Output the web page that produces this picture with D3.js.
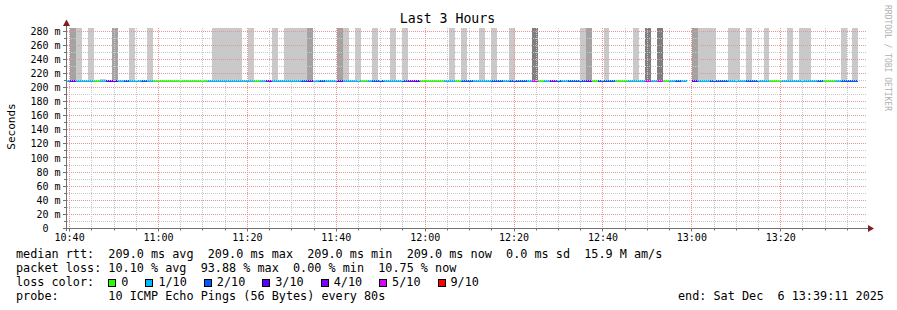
<!DOCTYPE html>
<html>
<head>
<meta charset="utf-8">
<script src="https://cdn.jsdelivr.net/npm/d3@7"></script>
<style>
  body { margin: 0; background: #fff; }
  text { font-family: "DejaVu Sans Mono", monospace; white-space: pre; fill: #000; }
</style>
</head>
<body>
<svg id="chart" width="897" height="310"></svg>
<script>
// ---- data ----
const viewStart = new Date(2025, 11, 6, 10, 39, 11);
const viewEnd = new Date(2025, 11, 6, 13, 39, 11);
const firstStep = new Date(2025, 11, 6, 10, 38, 48); // first 80 s step, partly left of the axis
const stepSeconds = 80;
const medianMs = 209;

// lost pings out of 10 per step (null = no data)
const lossCount = [
  1, 3, 1, 1, 1, 0, 1, 3, 3, 1,
  2, 1, 1, 2, 1, 0, 0, 0, 0, 0,
  0, 0, 0, 0, 1, 1, 1, 1, 1, 1,
  1, 1, 0, 1, 4, 1, 1, 1, 1, 1,
  2, 3, 1, 2, 1, 1, 3, 1, 1, 1,
  0, 1, 2, 2, 1, 1, 1, 2, 4, 3,
  0, 0, 0, 0, 1, 1, 0, 2, 2, 1,
  1, 1, 2, 2, 1, 2, 2, 2, 1, 5,
  0, 1, 4, 2, 1, 2, 2, 2, 3, 0,
  2, 2, 2, 0, 0, 1, 1, 1, 5, 1,
  5, 0, 1, 2, 1, null, 3, 1, 1, 2,
  2, 2, 1, 1, 1, 2, 2, 1, 1, 0,
  0, 1, 1, 1, 1, 1, 1, 2, 0, 0,
  1, 2, 2, 2
];

// smoke density per step: 0 none, 1 light, 2 medium, 3 dark
const smokeShade = [
  0, 2, 1, 0, 1, 0, 1, 0, 2, 0,
  0, 1, 0, 0, 1, 0, 0, 0, 0, 0,
  0, 0, 0, 0, 0, 1, 1, 1, 1, 1,
  0, 1, 0, 0, 0, 1, 0, 1, 1, 1,
  1, 2, 0, 0, 0, 0, 2, 1, 0, 1,
  0, 0, 1, 0, 0, 1, 0, 1, 0, 0,
  0, 0, 0, 0, 0, 1, 0, 1, 0, 0,
  1, 0, 1, 0, 0, 1, 0, 0, 0, 3,
  0, 0, 0, 0, 0, 0, 0, 1, 2, 0,
  0, 1, 0, 0, 0, 0, 1, 0, 3, 0,
  3, 0, 0, 0, 0, 0, 2, 1, 1, 1,
  0, 0, 1, 1, 0, 1, 0, 0, 1, 0,
  0, 0, 1, 0, 1, 1, 0, 0, 0, 0,
  0, 1, 0, 1
];
const smokeTopMs = 300;           // smoke runs off the top of the graph
const smokeTopOverride = { 6: 211.5 }; // one short smoke column

const lossLevels = [0, 1, 2, 3, 4, 5, 9];
const lossLabels = ["0", "1/10", "2/10", "3/10", "4/10", "5/10", "9/10"];
const lossColors = ["#26ff00", "#00b8ff", "#0059ff", "#5e00ff", "#7e00ff", "#dd00ff", "#ff0000"];
const smokeColors = [null, "#c9c9c9", "#a3a3a3", "#7f7f7f"];

const yTicks = d3.range(0, 281, 20);
const yMinor = d3.range(10, 281, 20);

const rttStats = ["209.0 ms avg", "209.0 ms max", "209.0 ms min", "209.0 ms now", "0.0 ms sd", "15.9 M am/s"];
const lossStats = ["10.10 % avg", "93.88 % max", "0.00 % min", "10.75 % now"];
const probeText = "10 ICMP Echo Pings (56 Bytes) every 80s";
const endText = "end: Sat Dec  6 13:39:11 2025";

// ---- drawing ----
const svg = d3.select("#chart");
const plotLeft = 66, plotRight = 866, plotTop = 28, plotBottom = 228.5;

const x = d3.scaleTime().domain([viewStart, viewEnd]).range([plotLeft, plotRight]);
const y = d3.scaleLinear().domain([0, 280]).range([plotBottom, 31]);

svg.append("defs").append("clipPath").attr("id", "plot")
  .append("rect").attr("x", plotLeft).attr("y", plotTop)
  .attr("width", plotRight - plotLeft).attr("height", plotBottom - plotTop);

const steps = lossCount.map((loss, i) => {
  const t0 = d3.timeSecond.offset(firstStep, i * stepSeconds);
  return {
    t0, t1: d3.timeSecond.offset(t0, stepSeconds),
    loss, shade: smokeShade[i],
    smokeTop: smokeTopOverride[i] !== undefined ? smokeTopOverride[i] : smokeTopMs
  };
});

const plot = svg.append("g").attr("clip-path", "url(#plot)");

// smoke
plot.selectAll("rect.smoke")
  .data(steps.filter(d => d.shade > 0 && d.loss !== null))
  .join("rect")
  .attr("class", "smoke")
  .attr("x", d => x(d.t0))
  .attr("width", d => x(d.t1) - x(d.t0))
  .attr("y", d => y(d.smokeTop))
  .attr("height", d => y(medianMs) - y(d.smokeTop))
  .attr("fill", d => smokeColors[d.shade])
  .attr("shape-rendering", "crispEdges");

// grid (dotted, over the smoke)
const grid = svg.append("g").attr("shape-rendering", "crispEdges");
const snap = v => Math.floor(v) + 0.5;
yTicks.concat(yMinor).filter(v => v > 0).forEach(v => {
  grid.append("line")
    .attr("x1", plotLeft + 1).attr("x2", plotRight)
    .attr("y1", snap(y(v))).attr("y2", snap(y(v)))
    .attr("stroke", v % 20 === 0 ? "#e79595" : "#c8c8c8")
    .attr("stroke-dasharray", "1,1");
});
const xMinor = x.ticks(d3.timeMinute.every(5));
xMinor.forEach(t => {
  const major = t.getMinutes() % 20 === 0;
  grid.append("line")
    .attr("x1", snap(x(t))).attr("x2", snap(x(t)))
    .attr("y1", plotTop).attr("y2", plotBottom)
    .attr("stroke", major ? "#ef9393" : "#c8c8c8")
    .attr("stroke-dasharray", "1,1");
});

// median line coloured by loss
const lineY = Math.round(y(medianMs)) - 1;
plot.selectAll("rect.loss")
  .data(steps.filter(d => d.loss !== null))
  .join("rect")
  .attr("class", "loss")
  .attr("x", d => x(d.t0))
  .attr("width", d => x(d.t1) - x(d.t0))
  .attr("y", lineY)
  .attr("height", 2)
  .attr("fill", d => lossColors[lossLevels.indexOf(d.loss)])
  .attr("shape-rendering", "crispEdges");

// axes
const axisColor = "#707070", arrowColor = "#7f1f1f";
svg.append("line").attr("x1", 63).attr("x2", 869).attr("y1", plotBottom).attr("y2", plotBottom)
  .attr("stroke", axisColor);
svg.append("line").attr("x1", plotLeft + 0.5).attr("x2", plotLeft + 0.5).attr("y1", 231).attr("y2", 24)
  .attr("stroke", axisColor);
svg.append("path").attr("d", "M868,225L874,228.5L868,232Z").attr("fill", arrowColor);
svg.append("path").attr("d", "M63,26L66.5,19.5L70,26Z").attr("fill", arrowColor);

yTicks.concat(yMinor).forEach(v => {
  svg.append("line").attr("x1", v % 20 === 0 ? 63 : 64).attr("x2", plotLeft)
    .attr("y1", snap(y(v))).attr("y2", snap(y(v))).attr("stroke", axisColor);
});
xMinor.forEach(t => {
  svg.append("line").attr("x1", snap(x(t))).attr("x2", snap(x(t)))
    .attr("y1", plotBottom).attr("y2", plotBottom + (t.getMinutes() % 20 === 0 ? 3 : 2))
    .attr("stroke", axisColor);
});

// tick labels
svg.selectAll("text.ylab").data(yTicks).join("text")
  .attr("class", "ylab")
  .attr("x", 60.5).attr("y", v => y(v) + 3.6)
  .attr("text-anchor", "end")
  .style("font-size", "10px")
  .text(v => v === 0 ? "0  " : v + " m");

const fmt = d3.timeFormat("%H:%M");
svg.selectAll("text.xlab").data(x.ticks(d3.timeMinute.every(20))).join("text")
  .attr("class", "xlab")
  .attr("x", d => x(d)).attr("y", 241)
  .attr("text-anchor", "middle")
  .style("font-size", "10px")
  .text(fmt);

// title, axis label, watermark
svg.append("text").attr("x", 447.5).attr("y", 23).attr("text-anchor", "middle")
  .style("font-size", "13.2px").text("Last 3 Hours");
svg.append("text").attr("transform", "translate(15,126.5) rotate(-90)")
  .attr("text-anchor", "middle").style("font-size", "11px").text("Seconds");
svg.append("text").attr("transform", "translate(885,5) rotate(90)")
  .style("font-size", "8px").style("fill", "#b0b0b0").text("RRDTOOL / TOBI OETIKER");

// legend
const lx = 16, lfs = "11.8px";
svg.append("text").attr("x", lx).attr("y", 258).style("font-size", lfs)
  .text("median rtt:  " + rttStats.join("  "));
svg.append("text").attr("x", lx).attr("y", 272).style("font-size", lfs)
  .text("packet loss: " + lossStats.join("  "));
svg.append("text").attr("x", lx).attr("y", 286).style("font-size", lfs)
  .text("loss color:");
svg.append("text").attr("x", lx).attr("y", 300).style("font-size", lfs)
  .text("probe:       " + probeText);
svg.append("text").attr("x", 678).attr("y", 300).style("font-size", lfs)
  .text(endText);

let bx = 108.3;
lossLabels.forEach((label, i) => {
  svg.append("rect").attr("x", Math.round(bx) + 0.5).attr("y", 279.5)
    .attr("width", 7).attr("height", 7)
    .attr("fill", lossColors[i]).attr("stroke", "#000");
  const t = svg.append("text").attr("x", bx + 13).attr("y", 286)
    .style("font-size", lfs).text(label);
  bx = bx + 13 + t.node().getComputedTextLength() + 17;
});
</script>
</body>
</html>
